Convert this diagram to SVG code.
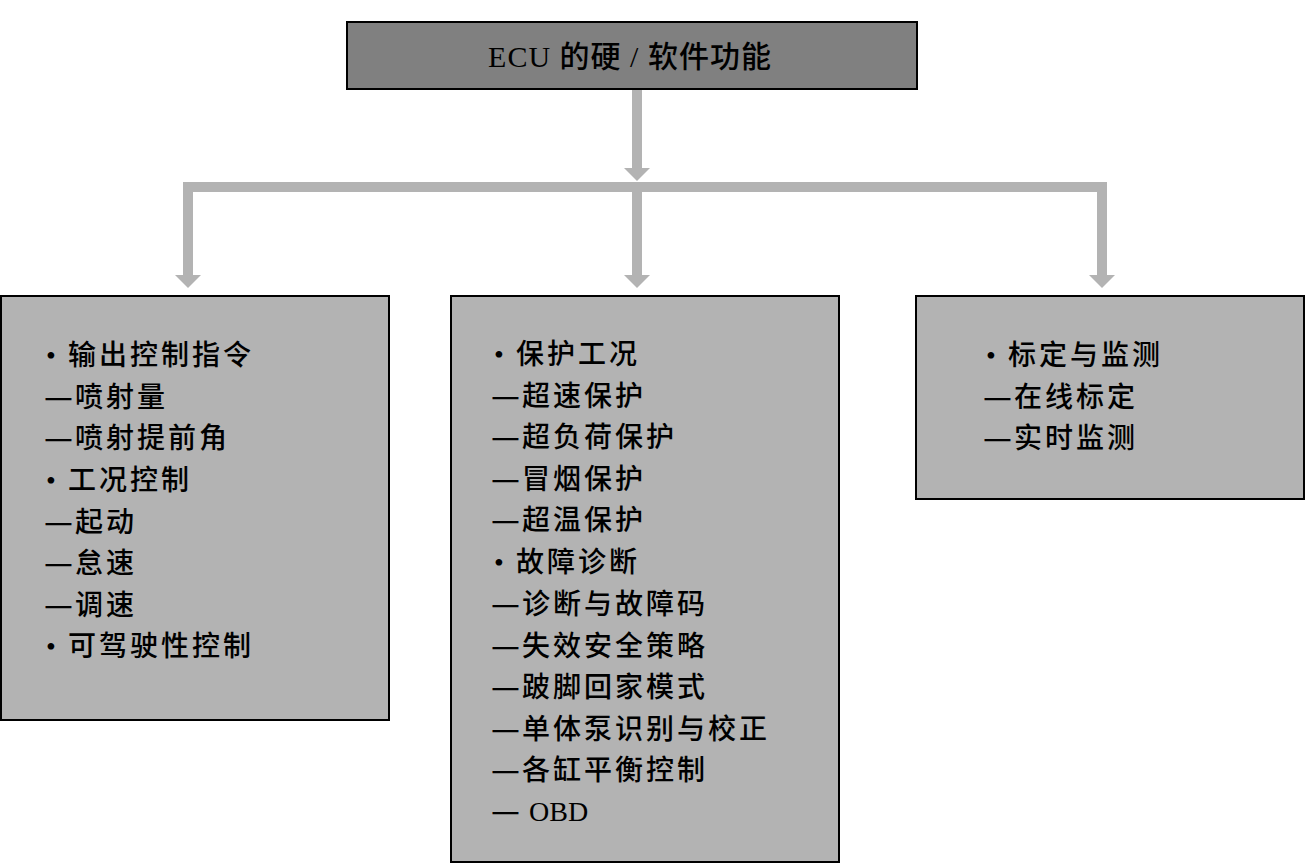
<svg xmlns="http://www.w3.org/2000/svg" width="1306" height="865" viewBox="0 0 1306 865">
<style>
.bg{fill:#ffffff}
.top{fill:#808080;stroke:#000;stroke-width:2}
.box{fill:#b3b3b3;stroke:#000;stroke-width:2}
.conn{stroke:#b3b3b3;stroke-width:10;fill:none}
.t{font-family:"Liberation Serif","Noto Sans CJK SC",serif;font-size:28px;fill:#000;letter-spacing:3px;font-weight:500}
.d{font-family:"Noto Sans CJK SC",sans-serif;letter-spacing:0}
.title{font-family:"Liberation Serif","Noto Sans CJK SC",serif;font-size:30px;fill:#000;letter-spacing:1px;font-weight:500}
</style>
<defs>
<marker id="ah" viewBox="0 0 13 26" refX="0" refY="13" markerWidth="13" markerHeight="26" markerUnits="userSpaceOnUse" orient="auto">
<path d="M0,0 L13,13 L0,26 z" fill="#b3b3b3"/>
</marker>
</defs>
<rect class="bg" x="0" y="0" width="1306" height="865"/>
<g id="connectors">
<line class="conn" x1="637" y1="89" x2="637" y2="168" marker-end="url(#ah)"/>
<line class="conn" x1="183" y1="187" x2="1107" y2="187"/>
<line class="conn" x1="188" y1="182" x2="188" y2="275" marker-end="url(#ah)"/>
<line class="conn" x1="637" y1="187" x2="637" y2="275" marker-end="url(#ah)"/>
<line class="conn" x1="1102" y1="182" x2="1102" y2="275" marker-end="url(#ah)"/>
</g>
<g id="root">
<rect class="top" x="347" y="22" width="570" height="67"/>
<text class="title" x="630" y="67" text-anchor="middle">ECU 的硬 / 软件功能</text>
</g>
<g id="left">
<rect class="box" x="1" y="296" width="388" height="424"/>
<text class="t" x="46" y="365">•<tspan x="68">输出控制指令</tspan></text>
<text class="t" x="44" y="407"><tspan class="d" textLength="29" lengthAdjust="spacingAndGlyphs">—</tspan><tspan x="75">喷射量</tspan></text>
<text class="t" x="44" y="448"><tspan class="d" textLength="29" lengthAdjust="spacingAndGlyphs">—</tspan><tspan x="75">喷射提前角</tspan></text>
<text class="t" x="46" y="490">•<tspan x="68">工况控制</tspan></text>
<text class="t" x="44" y="532"><tspan class="d" textLength="29" lengthAdjust="spacingAndGlyphs">—</tspan><tspan x="75">起动</tspan></text>
<text class="t" x="44" y="573"><tspan class="d" textLength="29" lengthAdjust="spacingAndGlyphs">—</tspan><tspan x="75">怠速</tspan></text>
<text class="t" x="44" y="615"><tspan class="d" textLength="29" lengthAdjust="spacingAndGlyphs">—</tspan><tspan x="75">调速</tspan></text>
<text class="t" x="46" y="656">•<tspan x="68">可驾驶性控制</tspan></text>
</g>
<g id="middle">
<rect class="box" x="451" y="296" width="388" height="566"/>
<text class="t" x="494" y="364">•<tspan x="516">保护工况</tspan></text>
<text class="t" x="491" y="406"><tspan class="d" textLength="29" lengthAdjust="spacingAndGlyphs">—</tspan><tspan x="522">超速保护</tspan></text>
<text class="t" x="491" y="447"><tspan class="d" textLength="29" lengthAdjust="spacingAndGlyphs">—</tspan><tspan x="522">超负荷保护</tspan></text>
<text class="t" x="491" y="489"><tspan class="d" textLength="29" lengthAdjust="spacingAndGlyphs">—</tspan><tspan x="522">冒烟保护</tspan></text>
<text class="t" x="491" y="530"><tspan class="d" textLength="29" lengthAdjust="spacingAndGlyphs">—</tspan><tspan x="522">超温保护</tspan></text>
<text class="t" x="494" y="572">•<tspan x="516">故障诊断</tspan></text>
<text class="t" x="491" y="614"><tspan class="d" textLength="29" lengthAdjust="spacingAndGlyphs">—</tspan><tspan x="522">诊断与故障码</tspan></text>
<text class="t" x="491" y="656"><tspan class="d" textLength="29" lengthAdjust="spacingAndGlyphs">—</tspan><tspan x="522">失效安全策略</tspan></text>
<text class="t" x="491" y="697"><tspan class="d" textLength="29" lengthAdjust="spacingAndGlyphs">—</tspan><tspan x="522">跛脚回家模式</tspan></text>
<text class="t" x="491" y="739"><tspan class="d" textLength="29" lengthAdjust="spacingAndGlyphs">—</tspan><tspan x="522">单体泵识别与校正</tspan></text>
<text class="t" x="491" y="780"><tspan class="d" textLength="29" lengthAdjust="spacingAndGlyphs">—</tspan><tspan x="522">各缸平衡控制</tspan></text>
<text class="t" x="491" y="821"><tspan class="d" textLength="29" lengthAdjust="spacingAndGlyphs">—</tspan><tspan x="529" style="letter-spacing:0">OBD</tspan></text>
</g>
<g id="right">
<rect class="box" x="916" y="296" width="388" height="203"/>
<text class="t" x="986" y="365">•<tspan x="1008">标定与监测</tspan></text>
<text class="t" x="983" y="407"><tspan class="d" textLength="29" lengthAdjust="spacingAndGlyphs">—</tspan><tspan x="1014">在线标定</tspan></text>
<text class="t" x="983" y="448"><tspan class="d" textLength="29" lengthAdjust="spacingAndGlyphs">—</tspan><tspan x="1014">实时监测</tspan></text>
</g>
</svg>
